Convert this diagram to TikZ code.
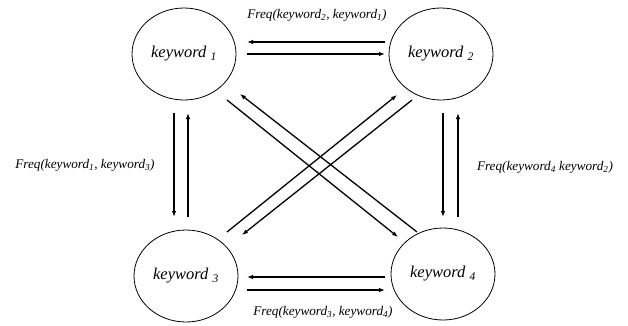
\documentclass[tikz,border=0pt]{standalone}
\usepackage{fontspec}
\setmainfont{Liberation Serif}
\usetikzlibrary{arrows.meta,shapes.geometric}

\tikzset{
  kwnode/.style={draw=black, line width=0.8pt, ellipse, minimum width=104pt,
    minimum height=92pt, inner sep=0pt, font=\fontsize{16.5}{18}\selectfont\itshape},
  arr/.style={line width=1.3pt, -{Latex[length=6pt,width=4.5pt]}},
  freqlabel/.style={font=\fontsize{13.2}{15}\selectfont\itshape, inner sep=1pt}
}

\begin{document}
\begin{tikzpicture}[x=1pt,y=-1pt]
  \useasboundingbox (0,0) rectangle (628,325);
  \fill[white] (0,0) rectangle (628,325);

  % keyword nodes
  \node[kwnode] (k1) at (184,54)  {keyword \textsubscript{1}};
  \node[kwnode] (k2) at (441,54)  {keyword \textsubscript{2}};
  \node[kwnode] (k3) at (186,276) {keyword \textsubscript{3}};
  \node[kwnode] (k4) at (443,274) {keyword \textsubscript{4}};

  % top pair
  \draw[arr] ([shift={(-56,-12)}]k2.center) -- ([shift={(63,-12)}]k1.center);
  \draw[arr] ([shift={(63,0)}]k1.center) -- ([shift={(-56,0)}]k2.center);

  % bottom pair
  \draw[arr] ([shift={(-58,3)}]k4.center) -- ([shift={(61,1)}]k3.center);
  \draw[arr] ([shift={(61,14)}]k3.center) -- ([shift={(-58,16)}]k4.center);

  % left pair
  \draw[arr] ([shift={(-10,59)}]k1.center) -- ([shift={(-12,-59)}]k3.center);
  \draw[arr] ([shift={(2,-59)}]k3.center) -- ([shift={(4,59)}]k1.center);

  % right pair
  \draw[arr] ([shift={(2,59)}]k2.center) -- ([shift={(0,-57)}]k4.center);
  \draw[arr] ([shift={(15,-57)}]k4.center) -- ([shift={(17,59)}]k2.center);

  % diagonals
  \draw[arr] ([shift={(43,46)}]k1.center) -- ([shift={(-45,-37)}]k4.center);
  \draw[arr] ([shift={(-26,-42)}]k4.center) -- ([shift={(56,40)}]k1.center);
  \draw[arr] ([shift={(41,-44)}]k3.center) -- ([shift={(-44,41)}]k2.center);
  \draw[arr] ([shift={(-29,46)}]k2.center) -- ([shift={(56,-41)}]k3.center);

  % frequency labels
  \node[freqlabel] (ftop)   at (317,15)  {Freq(keyword\textsubscript{2}, keyword\textsubscript{1})};
  \node[freqlabel] (fleft)  at (85,165)  {Freq(keyword\textsubscript{1}, keyword\textsubscript{3})};
  \node[freqlabel] (fright) at (545,167) {Freq(keyword\textsubscript{4} keyword\textsubscript{2})};
  \node[freqlabel] (fbot)   at (323,312) {Freq(keyword\textsubscript{3}, keyword\textsubscript{4})};
\end{tikzpicture}
\end{document}
